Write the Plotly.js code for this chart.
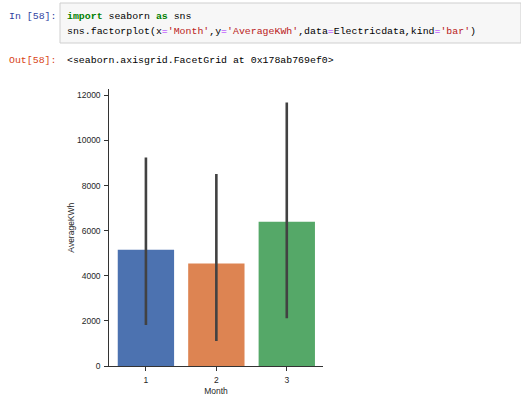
<!DOCTYPE html>
<html>
<head>
<meta charset="utf-8">
<script src="https://cdn.plot.ly/plotly-3.0.1.min.js"></script>
<style>
html,body{margin:0;padding:0;background:#fff;}
#chart{width:521px;height:396px;}
</style>
</head>
<body>
<div id="chart"></div>
<script>
// Data
var months = [1, 2, 3];
var monthLabels = ["1", "2", "3"];
var averageKWh = [5150, 4550, 6400];
var ciLow = [1820, 1110, 2120];
var ciHigh = [9250, 8510, 11680];
var barColors = ["#4C72B0", "#DD8452", "#55A868"];
var yTicks = [0, 2000, 4000, 6000, 8000, 10000, 12000];
var yTickLabels = ["0", "2000", "4000", "6000", "8000", "10000", "12000"];

var W = 521, H = 396;
function px(x) { return x / W; }
function py(y) { return 1 - y / H; }

var errPlus = averageKWh.map(function (v, i) { return ciHigh[i] - v; });
var errMinus = averageKWh.map(function (v, i) { return v - ciLow[i]; });

var trace = {
  type: "bar",
  x: months,
  y: averageKWh,
  width: 0.8,
  marker: { color: barColors, line: { width: 0 } },
  error_y: {
    type: "data",
    symmetric: false,
    array: errPlus,
    arrayminus: errMinus,
    color: "#424242",
    thickness: 2.6,
    width: 0
  },
  hoverinfo: "skip"
};

var kw = function (t) { return '<span style="color:#008000"><b>' + t + '</b></span>'; };
var st = function (t) { return '<span style="color:#BA2121">' + t + '</span>'; };
var op = function (t) { return '<span style="color:#AA22FF">' + t + '</span>'; };

var line1 = kw("import") + " seaborn " + kw("as") + " sns";
var line2 = "sns.factorplot(x" + op("=") + st("'Month'") + ",y" + op("=") + st("'AverageKWh'") +
  ",data" + op("=") + "Electricdata,kind" + op("=") + st("'bar'") + ")";

var mono = { family: "Liberation Mono, DejaVu Sans Mono, monospace", size: 9.9, color: "#000" };

var layout = {
  width: W, height: H,
  margin: { l: 0, r: 0, t: 0, b: 0 },
  paper_bgcolor: "#fff",
  plot_bgcolor: "#fff",
  showlegend: false,
  bargap: 0.2,
  font: { family: "Liberation Sans, Arial, sans-serif", size: 8.3, color: "#262626" },
  xaxis: {
    domain: [px(109.3), px(322.7)],
    range: [0.48, 3.51],
    tickvals: months,
    ticktext: monthLabels,
    ticks: "outside",
    ticklen: 4,
    tickwidth: 1,
    tickcolor: "#333",
    ticklabelstandoff: 2,
    showline: true,
    linecolor: "#333",
    linewidth: 1,
    showgrid: false,
    zeroline: false,
    fixedrange: true,
    tickfont: { size: 8.5, color: "#262626" },
    title: { text: "Month", font: { size: 8.5, color: "#262626" }, standoff: 4 },
    automargin: false
  },
  yaxis: {
    domain: [py(366), py(89.3)],
    range: [0, 12270],
    tickvals: yTicks,
    ticktext: yTickLabels,
    ticks: "outside",
    ticklen: 4,
    tickwidth: 1,
    tickcolor: "#333",
    ticklabelstandoff: 2,
    showline: true,
    linecolor: "#333",
    linewidth: 1,
    showgrid: false,
    zeroline: false,
    fixedrange: true,
    tickfont: { size: 8.5, color: "#262626" },
    title: { text: "AverageKWh", font: { size: 8.5, color: "#262626" }, standoff: 0 },
    automargin: false
  },
  shapes: [
    {
      type: "rect", xref: "paper", yref: "paper",
      x0: px(60), x1: px(521), y0: py(43), y1: py(3),
      fillcolor: "#f7f7f7", line: { color: "#cfcfcf", width: 1 }, layer: "below"
    }
  ],
  annotations: [
    { xref: "paper", yref: "paper", x: px(7), y: py(16), xanchor: "left", yanchor: "middle",
      text: "In [58]:", showarrow: false, font: { family: mono.family, size: mono.size, color: "#303F9F" } },
    { xref: "paper", yref: "paper", x: px(65), y: py(16), xanchor: "left", yanchor: "middle",
      text: line1, showarrow: false, font: mono },
    { xref: "paper", yref: "paper", x: px(65), y: py(32), xanchor: "left", yanchor: "middle",
      text: line2, showarrow: false, font: mono },
    { xref: "paper", yref: "paper", x: px(7), y: py(61), xanchor: "left", yanchor: "middle",
      text: "Out[58]:", showarrow: false, font: { family: mono.family, size: mono.size, color: "#D84315" } },
    { xref: "paper", yref: "paper", x: px(65), y: py(61), xanchor: "left", yanchor: "middle",
      text: "&lt;seaborn.axisgrid.FacetGrid at 0x178ab769ef0&gt;", showarrow: false, font: mono }
  ]
};

Plotly.newPlot("chart", [trace], layout, { staticPlot: true, displayModeBar: false });
</script>
</body>
</html>
